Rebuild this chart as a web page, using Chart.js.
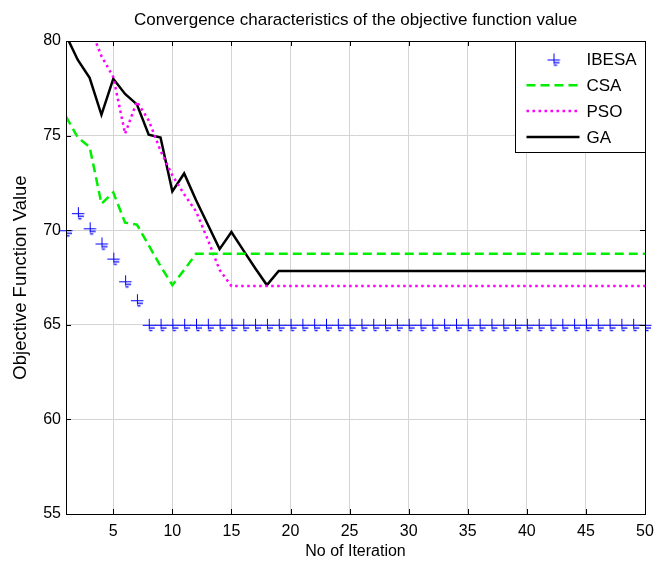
<!DOCTYPE html>
<html>
<head>
<meta charset="utf-8">
<script src="https://cdn.jsdelivr.net/npm/chart.js@4.4.1/dist/chart.umd.min.js"></script>
<style>
  body { margin: 0; background: #fff; }
  #wrap { width: 670px; height: 562px; }
</style>
</head>
<body>
<div id="wrap"><canvas id="chart" width="670" height="562"></canvas></div>
<script>
// values
const iterations = [1, 2, 3, 4, 5, 6, 7, 8, 9, 10, 11, 12, 13, 14, 15, 16, 17, 18, 19, 20,
  21, 22, 23, 24, 25, 26, 27, 28, 29, 30, 31, 32, 33, 34, 35, 36, 37, 38, 39, 40,
  41, 42, 43, 44, 45, 46, 47, 48, 49, 50];

const ibesa = [70.0, 70.9, 70.1, 69.3, 68.5, 67.3, 66.3, 65, 65, 65, 65, 65, 65, 65, 65, 65, 65, 65, 65, 65,
  65, 65, 65, 65, 65, 65, 65, 65, 65, 65, 65, 65, 65, 65, 65, 65, 65, 65, 65, 65,
  65, 65, 65, 65, 65, 65, 65, 65, 65, 65];

const csa = [76.0, 74.9, 74.4, 71.4, 72.0, 70.4, 70.3, 69.2, 68.1, 67.1, 67.9, 68.75, 68.75, 68.75, 68.75, 68.75, 68.75, 68.75, 68.75, 68.75,
  68.75, 68.75, 68.75, 68.75, 68.75, 68.75, 68.75, 68.75, 68.75, 68.75, 68.75, 68.75, 68.75, 68.75, 68.75, 68.75, 68.75, 68.75, 68.75, 68.75,
  68.75, 68.75, 68.75, 68.75, 68.75, 68.75, 68.75, 68.75, 68.75, 68.75];

const pso = [84, 82, 80.8, 79.2, 78.1, 75.1, 76.8, 75.8, 74.2, 72.9, 71.9, 71.0, 69.5, 67.9, 67.05, 67.05, 67.05, 67.05, 67.05, 67.05,
  67.05, 67.05, 67.05, 67.05, 67.05, 67.05, 67.05, 67.05, 67.05, 67.05, 67.05, 67.05, 67.05, 67.05, 67.05, 67.05, 67.05, 67.05, 67.05, 67.05,
  67.05, 67.05, 67.05, 67.05, 67.05, 67.05, 67.05, 67.05, 67.05, 67.05];

const ga = [80.3, 79.0, 78.05, 76.1, 78.0, 77.2, 76.65, 75.05, 74.9, 72.05, 73.0, 71.6, 70.3, 69.0, 69.9, 68.95, 68.0, 67.1, 67.85, 67.85,
  67.85, 67.85, 67.85, 67.85, 67.85, 67.85, 67.85, 67.85, 67.85, 67.85, 67.85, 67.85, 67.85, 67.85, 67.85, 67.85, 67.85, 67.85, 67.85, 67.85,
  67.85, 67.85, 67.85, 67.85, 67.85, 67.85, 67.85, 67.85, 67.85, 67.85];

const xTickValues = [5, 10, 15, 20, 25, 30, 35, 40, 45, 50];
const yTickValues = [55, 60, 65, 70, 75, 80];

const FONT = '"Liberation Sans", Arial, Helvetica, sans-serif';

// the '+' marker with the little blue bits under it, like in the figure
function makeMarker() {
  const c = document.createElement('canvas');
  c.width = 16;
  c.height = 16;
  const g = c.getContext('2d');
  g.strokeStyle = '#0000ff';
  g.lineWidth = 1;
  g.beginPath();
  g.moveTo(2, 8.5); g.lineTo(14.5, 8.5);
  g.moveTo(8.5, 2); g.lineTo(8.5, 12.5);
  g.stroke();
  g.fillStyle = '#0000ff';
  g.fillRect(9, 10.5, 5, 1.3);
  g.fillRect(8.5, 13, 3, 1.3);
  return c;
}
const marker = makeMarker();

const toPoints = (arr) => iterations.map((it, i) => ({ x: it, y: arr[i] }));

// box round the axes + inner tick marks
const axesBox = {
  id: 'axesBox',
  afterDatasetsDraw(chart) {
    const { ctx, chartArea: a, scales } = chart;
    ctx.save();
    ctx.strokeStyle = '#000';
    ctx.lineWidth = 1;
    ctx.beginPath();
    xTickValues.forEach(v => {
      const px = Math.round(scales.x.getPixelForValue(v)) + 0.5;
      ctx.moveTo(px, a.bottom); ctx.lineTo(px, a.bottom - 5);
      ctx.moveTo(px, a.top); ctx.lineTo(px, a.top + 5);
    });
    yTickValues.forEach(v => {
      const py = Math.round(scales.y.getPixelForValue(v)) + 0.5;
      ctx.moveTo(a.left, py); ctx.lineTo(a.left + 5, py);
      ctx.moveTo(a.right, py); ctx.lineTo(a.right - 5, py);
    });
    ctx.stroke();
    ctx.strokeRect(Math.round(a.left) + 0.5, Math.round(a.top) + 0.5,
      Math.round(a.right - a.left), Math.round(a.bottom - a.top));
    ctx.restore();
  }
};

// legend in the top right corner of the axes
const boxLegend = {
  id: 'boxLegend',
  afterDraw(chart) {
    const { ctx, chartArea: a } = chart;
    const w = 130, h = 111;
    const left = Math.round(a.right - w) + 0.5;
    const top = Math.round(a.top) + 0.5;
    ctx.save();
    ctx.fillStyle = '#fff';
    ctx.fillRect(left, top, w, h);
    ctx.strokeStyle = '#000';
    ctx.lineWidth = 1;
    ctx.strokeRect(left, top, w, h);
    ctx.font = '17px ' + FONT;
    ctx.textBaseline = 'middle';
    ctx.textAlign = 'left';
    chart.data.datasets.forEach((ds, i) => {
      const y = top + 18 + i * 25.8;
      if (ds.showLine === false) {
        ctx.drawImage(marker, left + 38 - 8, y - 8);
      } else {
        ctx.strokeStyle = ds.borderColor;
        ctx.lineWidth = ds.borderWidth;
        ctx.setLineDash(ds.borderDash || []);
        ctx.beginPath();
        ctx.moveTo(left + 11, y);
        ctx.lineTo(left + 64, y);
        ctx.stroke();
        ctx.setLineDash([]);
      }
      ctx.fillStyle = '#000';
      ctx.fillText(ds.label, left + 71, y + 1);
    });
    ctx.restore();
  }
};

new Chart(document.getElementById('chart'), {
  type: 'line',
  data: {
    datasets: [
      {
        label: 'IBESA',
        data: toPoints(ibesa),
        showLine: false,
        pointStyle: marker,
        pointRadius: 7,
        borderColor: '#0000ff',
        backgroundColor: '#0000ff',
        clip: false
      },
      {
        label: 'CSA',
        data: toPoints(csa),
        borderColor: '#00ee00',
        borderWidth: 2.5,
        borderDash: [9, 5],
        pointRadius: 0,
        fill: false
      },
      {
        label: 'PSO',
        data: toPoints(pso),
        borderColor: '#ff00ff',
        borderWidth: 2.5,
        borderDash: [2.5, 3.5],
        pointRadius: 0,
        fill: false
      },
      {
        label: 'GA',
        data: toPoints(ga),
        borderColor: '#000000',
        borderWidth: 2.5,
        pointRadius: 0,
        fill: false
      }
    ]
  },
  options: {
    responsive: false,
    animation: false,
    devicePixelRatio: 1,
    layout: { padding: { left: 0, right: 25, top: 0, bottom: 0 } },
    plugins: {
      legend: { display: false },
      tooltip: { enabled: false },
      title: {
        display: true,
        fullSize: false,
        text: 'Convergence characteristics of the objective function value',
        color: '#000',
        font: { family: FONT, size: 17, weight: 'normal' },
        padding: { top: 10, bottom: 10.6 }
      }
    },
    scales: {
      x: {
        type: 'linear',
        min: 1,
        max: 50,
        afterBuildTicks: (scale) => { scale.ticks = xTickValues.map(v => ({ value: v })); },
        afterFit: (scale) => { scale.height = 48; },
        grid: { color: '#d4d4d4', drawTicks: false },
        border: { display: false },
        ticks: {
          color: '#000',
          padding: 8,
          maxRotation: 0,
          autoSkip: false,
          font: { family: FONT, size: 16 }
        },
        title: {
          display: true,
          text: 'No of Iteration',
          color: '#000',
          font: { family: FONT, size: 16 },
          padding: { top: 0, bottom: 1 }
        }
      },
      y: {
        min: 55,
        max: 80,
        afterBuildTicks: (scale) => { scale.ticks = yTickValues.map(v => ({ value: v })); },
        afterFit: (scale) => { scale.width = 66; },
        grid: { color: '#d4d4d4', drawTicks: false },
        border: { display: false },
        ticks: {
          color: '#000',
          padding: 5,
          font: { family: FONT, size: 16 }
        },
        title: {
          display: true,
          text: 'Objective Function Value',
          color: '#000',
          font: { family: FONT, size: 18.5 },
          padding: { top: 10, bottom: 0 }
        }
      }
    }
  },
  plugins: [axesBox, boxLegend]
});
</script>
</body>
</html>
